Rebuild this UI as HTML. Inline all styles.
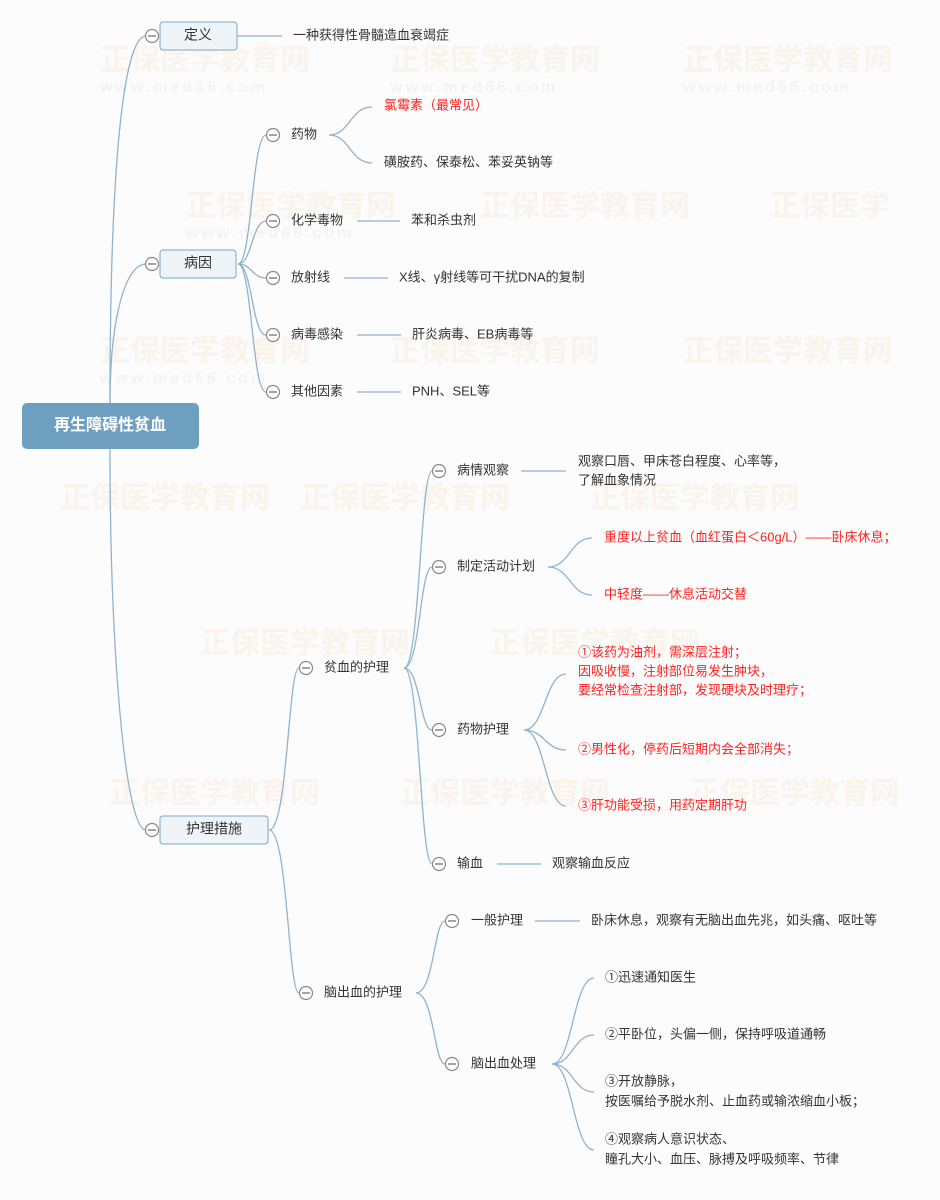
<!DOCTYPE html>
<html><head><meta charset="utf-8"><style>
html,body{margin:0;padding:0;background:#fcfcfc}
svg text{font-family:"Liberation Sans","Noto Sans CJK SC",sans-serif;font-size:13px;fill:#333;dominant-baseline:middle}
.r{fill:#f22}
.wm{font-size:30px;fill:#faf4ec;font-weight:bold}
.wu{font-size:16px;fill:#f3f3f3;font-weight:bold;letter-spacing:3px}
</style></head><body>
<svg width="940" height="1195" xmlns="http://www.w3.org/2000/svg">
<defs>
<g id="m"><circle r="6.5" fill="#fff" stroke="#888" stroke-width="1.2"/><line x1="-4" y1="0" x2="4" y2="0" stroke="#666" stroke-width="1.2"/></g>
</defs>
<g>
<text class="wm" x="100" y="62">正保医学教育网</text><text class="wu" x="100" y="88">www.med66.com</text>
<text class="wm" x="390" y="62">正保医学教育网</text><text class="wu" x="390" y="88">www.med66.com</text>
<text class="wm" x="683" y="62">正保医学教育网</text><text class="wu" x="683" y="88">www.med66.com</text>
<text class="wm" x="186" y="208">正保医学教育网</text><text class="wu" x="186" y="234">www.med66.com</text>
<text class="wm" x="480" y="208">正保医学教育网</text><text class="wm" x="770" y="208">正保医学</text>
<text class="wm" x="100" y="353">正保医学教育网</text><text class="wu" x="100" y="379">www.med66.com</text>
<text class="wm" x="390" y="353">正保医学教育网</text><text class="wm" x="683" y="353">正保医学教育网</text>
<text class="wm" x="60" y="500">正保医学教育网</text><text class="wm" x="300" y="500">正保医学教育网</text><text class="wm" x="590" y="500">正保医学教育网</text>
<text class="wm" x="200" y="645">正保医学教育网</text><text class="wm" x="490" y="645">正保医学教育网</text>
<text class="wm" x="110" y="795">正保医学教育网</text><text class="wm" x="400" y="795">正保医学教育网</text><text class="wm" x="690" y="795">正保医学教育网</text>
</g>
<g fill="none" stroke="#8fb3cf" stroke-width="1.3">
<path d="M110 403 C110 150,125 36,146 36"/>
<path d="M110 403 C110 320,125 264,146 264"/>
<path d="M110 449 C110 650,125 830,146 830"/>
<line x1="237" y1="36" x2="282" y2="36"/>
<path d="M238 264 C252 264,252 135,266 135"/>
<path d="M238 264 C252 264,252 221,266 221"/>
<path d="M238 264 C252 264,252 278,266 278"/>
<path d="M238 264 C252 264,252 335,266 335"/>
<path d="M238 264 C252 264,252 392,266 392"/>
<path d="M329 135 C350 135,350 107,372 107"/>
<path d="M329 135 C350 135,350 163,372 163"/>
<line x1="357" y1="221" x2="400" y2="221"/>
<line x1="344" y1="278" x2="388" y2="278"/>
<line x1="357" y1="335" x2="401" y2="335"/>
<line x1="357" y1="392" x2="401" y2="392"/>
<path d="M269 830 C288 830,288 668,299 668"/>
<path d="M269 830 C288 830,288 993,299 993"/>
<path d="M404 668 C420 668,420 471,432 471"/>
<path d="M404 668 C420 668,420 567,432 567"/>
<path d="M404 668 C420 668,420 730,432 730"/>
<path d="M404 668 C420 668,420 864,432 864"/>
<line x1="521" y1="471" x2="566" y2="471"/>
<path d="M548 567 C570 567,570 538,592 538"/>
<path d="M548 567 C570 567,570 595,592 595"/>
<path d="M524 730 C545 730,545 674,566 674"/>
<path d="M524 730 C545 730,545 750,566 750"/>
<path d="M524 730 C545 730,545 806,566 806"/>
<line x1="497" y1="864" x2="541" y2="864"/>
<path d="M416 993 C434 993,434 921,445 921"/>
<path d="M416 993 C434 993,434 1064,445 1064"/>
<line x1="535" y1="921" x2="580" y2="921"/>
<path d="M552 1064 C573 1064,573 978,594 978"/>
<path d="M552 1064 C573 1064,573 1035,594 1035"/>
<path d="M552 1064 C573 1064,573 1092,594 1092"/>
<path d="M552 1064 C573 1064,573 1150,594 1150"/>
</g>
<rect x="22" y="403" width="177" height="46" rx="5" fill="#6f9fbf"/>
<text x="110" y="426" text-anchor="middle" style="fill:#fff;font-size:16px;font-weight:bold">再生障碍性贫血</text>
<rect x="160" y="22" width="77" height="28" rx="3" fill="#eef4f8" stroke="#7aa6c8"/>
<text x="198" y="36" text-anchor="middle" style="font-size:14px">定义</text>
<rect x="160" y="250" width="76" height="28" rx="3" fill="#eef4f8" stroke="#7aa6c8"/>
<text x="198" y="264" text-anchor="middle" style="font-size:14px">病因</text>
<rect x="160" y="816" width="108" height="28" rx="3" fill="#eef4f8" stroke="#7aa6c8"/>
<text x="214" y="830" text-anchor="middle" style="font-size:14px">护理措施</text>
<use href="#m" x="152" y="36"/><use href="#m" x="152" y="264"/><use href="#m" x="152" y="830"/>
<use href="#m" x="273" y="135"/><use href="#m" x="273" y="221"/><use href="#m" x="273" y="278"/><use href="#m" x="273" y="335"/><use href="#m" x="273" y="392"/>
<use href="#m" x="306" y="668"/><use href="#m" x="306" y="993"/>
<use href="#m" x="439" y="471"/><use href="#m" x="439" y="567"/><use href="#m" x="439" y="730"/><use href="#m" x="439" y="864"/>
<use href="#m" x="452" y="921"/><use href="#m" x="452" y="1064"/>
<text x="293" y="36">一种获得性骨髓造血衰竭症</text>
<text x="291" y="135">药物</text>
<text x="384" y="106" class="r">氯霉素（最常见）</text>
<text x="384" y="163">磺胺药、保泰松、苯妥英钠等</text>
<text x="291" y="221">化学毒物</text><text x="411" y="221">苯和杀虫剂</text>
<text x="291" y="278">放射线</text><text x="399" y="278">X线、γ射线等可干扰DNA的复制</text>
<text x="291" y="335">病毒感染</text><text x="412" y="335">肝炎病毒、EB病毒等</text>
<text x="291" y="392">其他因素</text><text x="412" y="392">PNH、SEL等</text>
<text x="324" y="668">贫血的护理</text>
<text x="457" y="471">病情观察</text>
<text x="578" y="462">观察口唇、甲床苍白程度、心率等，</text>
<text x="578" y="481">了解血象情况</text>
<text x="457" y="567">制定活动计划</text>
<text x="604" y="538" class="r">重度以上贫血（血红蛋白＜60g/L）——卧床休息；</text>
<text x="604" y="595" class="r">中轻度——休息活动交替</text>
<text x="457" y="730">药物护理</text>
<text x="578" y="653" class="r">①该药为油剂，需深层注射；</text>
<text x="578" y="672" class="r">因吸收慢，注射部位易发生肿块，</text>
<text x="578" y="691" class="r">要经常检查注射部，发现硬块及时理疗；</text>
<text x="578" y="750" class="r">②男性化，停药后短期内会全部消失；</text>
<text x="578" y="806" class="r">③肝功能受损，用药定期肝功</text>
<text x="457" y="864">输血</text><text x="552" y="864">观察输血反应</text>
<text x="324" y="993">脑出血的护理</text>
<text x="471" y="921">一般护理</text>
<text x="591" y="921">卧床休息，观察有无脑出血先兆，如头痛、呕吐等</text>
<text x="471" y="1064">脑出血处理</text>
<text x="605" y="978">①迅速通知医生</text>
<text x="605" y="1035">②平卧位，头偏一侧，保持呼吸道通畅</text>
<text x="605" y="1082">③开放静脉，</text>
<text x="605" y="1102">按医嘱给予脱水剂、止血药或输浓缩血小板；</text>
<text x="605" y="1140">④观察病人意识状态、</text>
<text x="605" y="1160">瞳孔大小、血压、脉搏及呼吸频率、节律</text>
</svg>
</body></html>
